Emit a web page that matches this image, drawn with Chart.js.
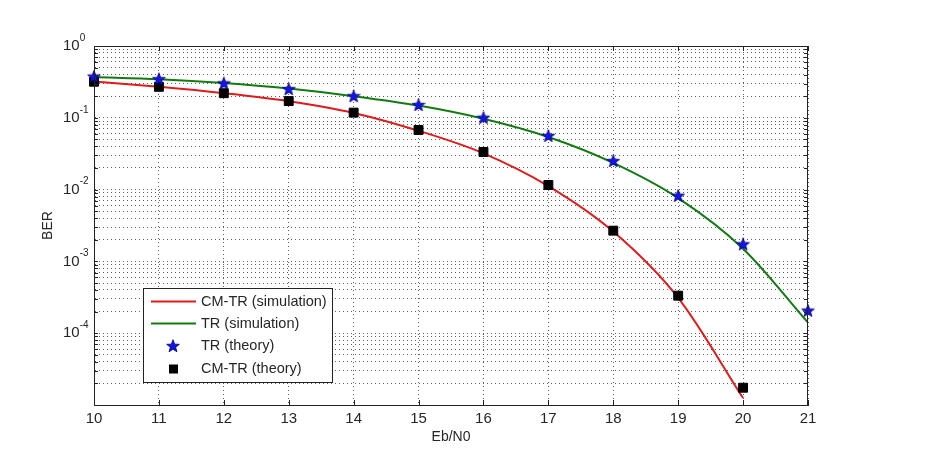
<!DOCTYPE html>
<html>
<head>
<meta charset="utf-8">
<script src="https://cdn.jsdelivr.net/npm/chart.js@4.4.1/dist/chart.umd.min.js"></script>
<style>
  html, body { margin: 0; padding: 0; background: #fff; }
</style>
</head>
<body>
<canvas id="berChart" width="928" height="459"></canvas>
<script>
// values
const ebn0 = [10, 11, 12, 13, 14, 15, 16, 17, 18, 19, 20, 21];
const cmtrSim = [0.32, 0.27, 0.22, 0.17, 0.117, 0.066, 0.032, 0.0112, 0.0026, 3.1e-4, 1.25e-5];
const trSim = [0.37, 0.345, 0.305, 0.255, 0.2, 0.148, 0.097, 0.054, 0.0235, 0.0076, 0.0015, 1.4e-4];
const trTheory = [0.375, 0.345, 0.302, 0.251, 0.2, 0.151, 0.1, 0.056, 0.025, 0.0082, 0.00173, 2.06e-4];
const cmtrTheory = [0.318, 0.27, 0.22, 0.171, 0.118, 0.0676, 0.0334, 0.0116, 0.00268, 3.33e-4, 1.74e-5];
const decadeExps = [0, -1, -2, -3, -4];

const FONT = '"Liberation Sans", Arial, sans-serif';
const TEXT = "#262626";

const pts = (ys) => ys.map((y, i) => ({ x: ebn0[i], y: y }));

// filled five point star (chart.js "star" is an asterisk)
function makeStar() {
    const c = document.createElement("canvas");
    c.width = 14; c.height = 14;
    const g = c.getContext("2d");
    g.beginPath();
    for (let i = 0; i < 10; i++) {
        const r = i % 2 === 0 ? 6.7 : 2.8;
        const a = -Math.PI / 2 + i * Math.PI / 5;
        const px = 7 + r * Math.cos(a), py = 7.4 + r * Math.sin(a);
        if (i === 0) g.moveTo(px, py); else g.lineTo(px, py);
    }
    g.closePath();
    g.fillStyle = "#1414e6";
    g.fill();
    g.strokeStyle = "#00007a";
    g.lineWidth = 0.8;
    g.stroke();
    return c;
}
const starImg = makeStar();

// box, inner ticks, y labels and legend like the matlab figure
const matlabAxes = {
    id: "matlabAxes",
    afterDraw(chart) {
        const { ctx, chartArea: a, scales } = chart;
        const xs = scales.x, ys = scales.y;
        ctx.save();
        ctx.strokeStyle = "#222";
        ctx.lineWidth = 1;
        ctx.strokeRect(a.left + 0.5, a.top + 0.5, a.right - a.left - 1, a.bottom - a.top);

        ctx.beginPath();
        xs.ticks.forEach(t => {
            const px = Math.round(xs.getPixelForValue(t.value)) + 0.5;
            ctx.moveTo(px, a.bottom); ctx.lineTo(px, a.bottom - 5);
            ctx.moveTo(px, a.top); ctx.lineTo(px, a.top + 5);
        });
        ys.ticks.forEach(t => {
            const py = Math.round(ys.getPixelForValue(t.value)) + 0.5;
            ctx.moveTo(a.left, py); ctx.lineTo(a.left + 4, py);
            ctx.moveTo(a.right, py); ctx.lineTo(a.right - 4, py);
        });
        ctx.stroke();

        // y labels 10^k
        ctx.fillStyle = TEXT;
        ctx.textBaseline = "middle";
        ctx.textAlign = "left";
        decadeExps.forEach(e => {
            const py = ys.getPixelForValue(Number("1e" + e));
            ctx.font = "15px " + FONT;
            ctx.fillText("10", 63, py);
            const w = ctx.measureText("10").width;
            ctx.font = "10px " + FONT;
            ctx.fillText(e === 0 ? "0" : "-" + (-e), 63 + w, py - 8);
        });

        // legend
        const bx = 143, by = 288, bw = 189, bh = 94;
        ctx.fillStyle = "#fff";
        ctx.fillRect(bx, by, bw, bh);
        ctx.strokeStyle = "#222";
        ctx.strokeRect(bx + 0.5, by + 0.5, bw, bh);
        const rows = [301.5, 323.5, 346, 369];
        const order = [0, 1, 2, 3];
        order.forEach((di, i) => {
            const ds = chart.data.datasets[di];
            const cy = rows[i];
            if (ds.showLine) {
                ctx.strokeStyle = ds.borderColor;
                ctx.lineWidth = ds.borderWidth;
                ctx.beginPath();
                ctx.moveTo(151, cy); ctx.lineTo(196, cy);
                ctx.stroke();
            } else if (ds.pointStyle === "rect") {
                ctx.fillStyle = "#000";
                ctx.fillRect(169, cy - 4.5, 9, 9);
            } else {
                ctx.drawImage(starImg, 166, cy - 7);
            }
            ctx.fillStyle = TEXT;
            ctx.font = "14.5px " + FONT;
            ctx.textAlign = "left";
            ctx.fillText(ds.label, 201, cy);
        });
        ctx.restore();
    }
};

new Chart(document.getElementById("berChart"), {
    type: "line",
    data: {
        datasets: [
            {
                label: "CM-TR (simulation)",
                data: pts(cmtrSim),
                showLine: true,
                borderColor: "#e01b1b",
                borderWidth: 2,
                pointRadius: 0,
                cubicInterpolationMode: "monotone",
                order: 3
            },
            {
                label: "TR (simulation)",
                data: pts(trSim),
                showLine: true,
                borderColor: "#137a13",
                borderWidth: 2,
                pointRadius: 0,
                cubicInterpolationMode: "monotone",
                order: 4
            },
            {
                label: "TR (theory)",
                data: pts(trTheory),
                showLine: false,
                pointStyle: starImg,
                pointRadius: 7,
                clip: false,
                order: 1
            },
            {
                label: "CM-TR (theory)",
                data: pts(cmtrTheory),
                showLine: false,
                pointStyle: "rect",
                pointRadius: 6.3,
                pointBackgroundColor: "#000",
                pointBorderColor: "#000",
                pointBorderWidth: 1,
                clip: false,
                order: 2
            }
        ]
    },
    options: {
        responsive: false,
        animation: false,
        layout: { padding: { left: 36, top: 46, right: 120, bottom: 0 } },
        plugins: {
            legend: { display: false },
            tooltip: { enabled: false }
        },
        scales: {
            x: {
                type: "linear",
                min: 10,
                max: 21,
                afterFit: (s) => { s.height = 54; },
                ticks: { stepSize: 1, padding: 5, color: TEXT, font: { family: FONT, size: 15 } },
                grid: { color: "rgba(40,40,40,0.75)", lineWidth: 1, drawTicks: false },
                border: { color: "#222", dash: [1, 3] },
                title: {
                    display: true, text: "Eb/N0", color: TEXT,
                    font: { family: FONT, size: 14 },
                    padding: { top: 4, bottom: 13 }
                }
            },
            y: {
                type: "logarithmic",
                min: 1e-5,
                max: 1,
                afterFit: (s) => { s.width = 58; },
                afterBuildTicks: (s) => {
                    const t = [];
                    for (let e = -5; e <= 0; e++) {
                        for (let m = 1; m <= 9; m++) {
                            const v = Number(m + "e" + e);
                            if (v <= 1) t.push({ value: v });
                        }
                    }
                    s.ticks = t;
                },
                ticks: { display: false },
                grid: { color: "rgba(40,40,40,0.75)", lineWidth: 1, drawTicks: false },
                border: { color: "#222", dash: [1, 3] },
                title: {
                    display: true, text: "BER", color: TEXT,
                    font: { family: FONT, size: 14 },
                    padding: { top: 4, bottom: 4 }
                }
            }
        }
    },
    plugins: [matlabAxes]
});
</script>
</body>
</html>
